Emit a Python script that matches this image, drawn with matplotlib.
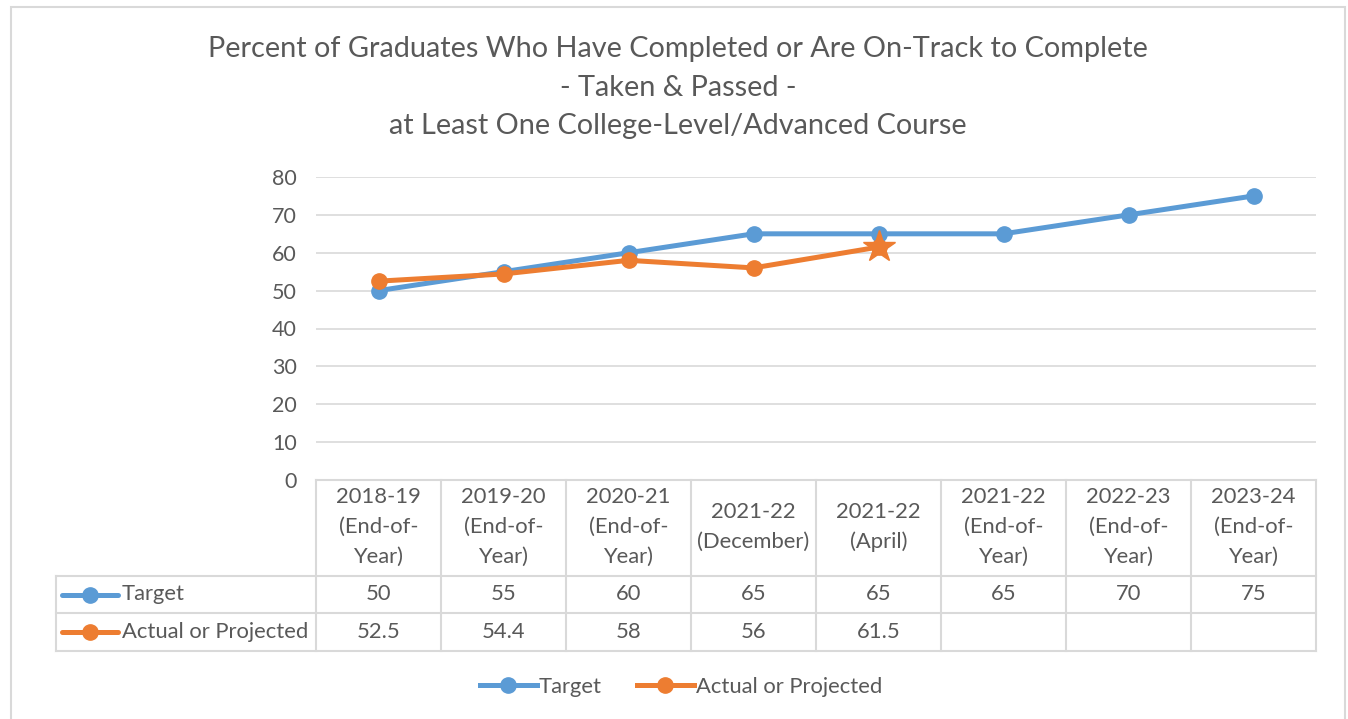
import matplotlib.pyplot as plt
from matplotlib.lines import Line2D
from matplotlib.patches import Rectangle

W, H = 1348, 719
BLUE = "#5B9BD5"
ORANGE = "#ED7D31"
GRID = "#D9D9D9"
TXT = "#595959"

categories = ["2018-19\n(End-of-\nYear)", "2019-20\n(End-of-\nYear)", "2020-21\n(End-of-\nYear)",
              "2021-22\n(December)", "2021-22\n(April)", "2021-22\n(End-of-\nYear)",
              "2022-23\n(End-of-\nYear)", "2023-24\n(End-of-\nYear)"]
target = [50, 55, 60, 65, 65, 65, 70, 75]
actual = [52.5, 54.4, 58, 56, 61.5]
series_names = ["Target", "Actual or Projected"]
title = ("Percent of Graduates Who Have Completed or Are On-Track to Complete\n"
         "- Taken & Passed -\nat Least One College-Level/Advanced Course")

plt.rcParams["font.family"] = ["Lato", "DejaVu Sans"]

fig = plt.figure(figsize=(W / 100, H / 100), dpi=100)


def px(x0, y0, x1, y1):
    return [x0 / W, 1 - y1 / H, (x1 - x0) / W, (y1 - y0) / H]


# chart border
fig.patches.append(Rectangle((11 / W, -0.05), 1334 / W, 1 - 7 / H + 0.05,
                             transform=fig.transFigure, fill=False,
                             edgecolor=GRID, linewidth=1.5))

fig.text(678 / W, 1 - 87.5 / H, title, ha="center", va="center", fontsize=20.8,
         color=TXT, linespacing=1.6)

ax = fig.add_axes(px(316, 177, 1316, 480))
xs = list(range(len(categories)))
ax.plot(xs, target, color=BLUE, lw=3.6, marker="o", ms=11, zorder=3)
ax.plot(xs[:len(actual)], actual, color=ORANGE, lw=3.6, marker="o", ms=11, zorder=4)
ax.plot(xs[len(actual) - 1], actual[-1], color=ORANGE, marker="*", ms=24, lw=0, zorder=5)
ax.set_xlim(-0.5, len(categories) - 0.5)
ax.set_ylim(0, 80)
ax.set_yticks(range(0, 81, 10))
ax.set_xticks([])
ax.grid(axis="y", color=GRID, lw=1.2)
ax.set_axisbelow(True)
for s in ax.spines.values():
    s.set_visible(False)
ax.tick_params(axis="y", length=0, pad=14, labelsize=15.5, labelcolor=TXT)

# data table below the plot
lab_w = 260 / 125
tab = fig.add_axes(px(56, 480, 1316, 651))
tab.set_xlim(-0.5 - lab_w, len(categories) - 0.5)
tab.set_ylim(171, 0)
tab.axis("off")
lk = dict(color=GRID, lw=1.5, clip_on=False)
for i in range(len(categories) + 1):
    tab.plot([i - 0.5, i - 0.5], [0, 171], **lk)
tab.plot([-0.5 - lab_w] * 2, [96, 171], **lk)
tab.plot([-0.5, len(categories) - 0.5], [0, 0], **lk)
for y in (96, 133, 171):
    tab.plot([-0.5 - lab_w, len(categories) - 0.5], [y, y], **lk)

fs = 15.8
for i, c in enumerate(categories):
    tab.text(i, 47, c, ha="center", va="center", fontsize=fs, color=TXT, linespacing=1.6)
rows = [(target, BLUE, 114.5), (actual, ORANGE, 152)]
for (vals, col, y), name in zip(rows, series_names):
    for i, v in enumerate(vals):
        tab.text(i, y, f"{v:g}", ha="center", va="center", fontsize=fs, color=TXT)
    x0 = -0.5 - lab_w + 6 / 125
    tab.plot([x0, x0 + 56 / 125], [y, y], color=col, lw=3.6, solid_capstyle="round")
    tab.plot(x0 + 28 / 125, y, color=col, marker="o", ms=11)
    tab.text(x0 + 60 / 125, y, name, ha="left", va="center", fontsize=fs, color=TXT)

handles = [Line2D([], [], color=BLUE, lw=3.6, marker="o", ms=11),
           Line2D([], [], color=ORANGE, lw=3.6, marker="o", ms=11)]
leg = fig.legend(handles, series_names, loc="center", bbox_to_anchor=(681 / W, 1 - 687 / H),
                 ncol=2, frameon=False, fontsize=fs, handlelength=2.6, handletextpad=0.1,
                 columnspacing=1.6)
for t in leg.get_texts():
    t.set_color(TXT)

fig.savefig("out.png", dpi=100)
